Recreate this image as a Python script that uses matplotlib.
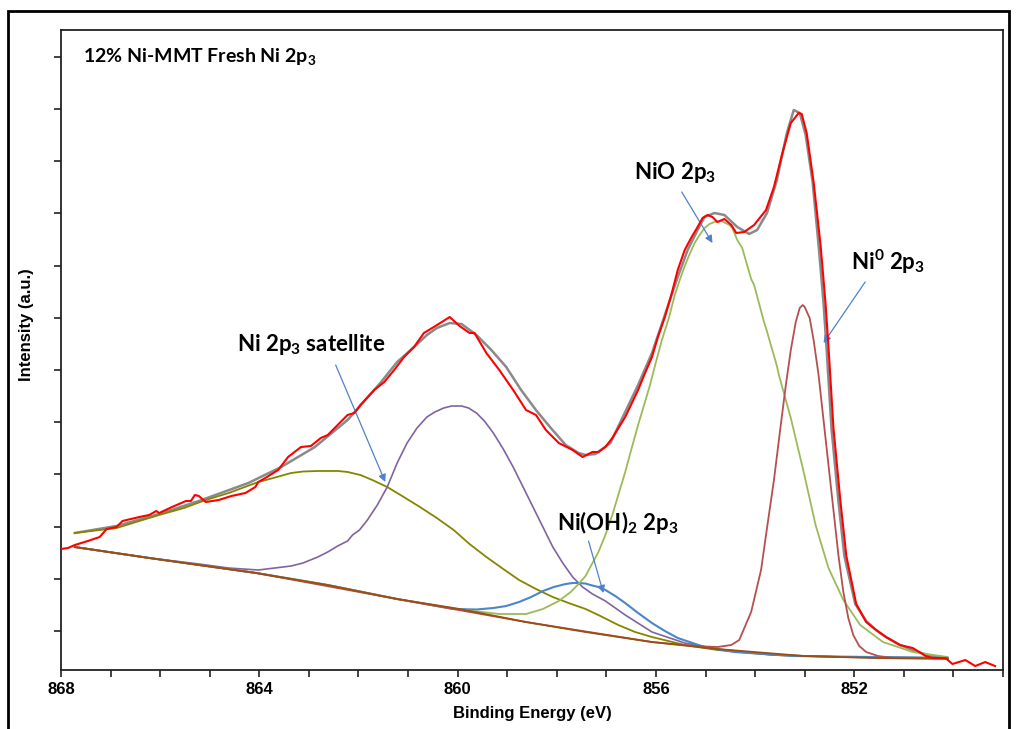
import matplotlib
matplotlib.use('Agg')
import matplotlib.pyplot as plt
from matplotlib.patches import Rectangle

# Ni 2p3 XPS spectrum, 12% Ni-MMT fresh
be_raw = [868.00, 867.86, 867.72, 867.46, 867.22, 867.08, 866.88, 866.76, 866.42, 866.22,
          866.08, 866.02, 865.76, 865.48, 865.38, 865.30, 865.22, 865.08, 864.82, 864.56,
          864.28, 864.08, 864.02, 863.88, 863.62, 863.42, 863.16, 862.96, 862.76, 862.62,
          862.42, 862.22, 862.08, 861.96, 861.68, 861.48, 861.28, 861.08, 860.88, 860.68,
          860.48, 860.32, 860.16, 859.96, 859.76, 859.66, 859.42, 859.16, 858.88, 858.62,
          858.42, 858.22, 857.96, 857.68, 857.48, 857.28, 857.16, 857.02, 856.88, 856.62,
          856.36, 856.22, 856.08, 855.96, 855.82, 855.68, 855.56, 855.42, 855.28, 855.16,
          855.06, 854.96, 854.86, 854.76, 854.62, 854.48, 854.38, 854.22, 854.02, 853.78,
          853.62, 853.46, 853.28, 853.12, 853.06, 852.96, 852.82, 852.68, 852.58, 852.52,
          852.42, 852.28, 852.16, 851.96, 851.76, 851.56, 851.36, 851.08, 850.82, 850.56,
          850.42, 850.16, 850.02, 849.76, 849.56, 849.36, 849.16]
cps_raw = [2571, 2590, 2648, 2724, 2801, 2954, 2993, 3108, 3184, 3223,
           3299, 3261, 3376, 3491, 3491, 3606, 3587, 3472, 3510, 3587,
           3644, 3759, 3855, 3931, 4085, 4334, 4525, 4545, 4698, 4755,
           4947, 5139, 5177, 5330, 5618, 5771, 6001, 6250, 6441, 6710,
           6825, 6920, 7016, 6844, 6710, 6710, 6326, 6001, 5618, 5234,
           5139, 4851, 4602, 4468, 4334, 4430, 4430, 4525, 4698, 5100,
           5618, 5943, 6250, 6633, 7016, 7476, 7917, 8300, 8549, 8741,
           8913, 8971, 8932, 8836, 8894, 8779, 8626, 8645, 8779, 9066,
           9507, 10120, 10733, 10925, 10906, 10542, 9603, 8396, 7284, 6441,
           4889, 3491, 2437, 1517, 1172, 1019, 885, 732, 674, 521,
           483, 483, 368, 444, 329, 406, 329]

be_env = [867.72, 866.88, 866.02, 865.22, 864.22, 863.56, 862.88, 862.22, 861.56, 861.22,
          860.88, 860.62, 860.42, 860.16, 859.92, 859.62, 859.32, 859.02, 858.72, 858.42,
          858.12, 857.82, 857.56, 857.42, 857.22, 856.92, 856.62, 856.36, 856.08, 855.82,
          855.56, 855.36, 855.16, 855.02, 854.82, 854.62, 854.36, 854.12, 853.96, 853.76,
          853.56, 853.36, 853.22, 853.10, 852.98, 852.84, 852.72, 852.62, 852.56, 852.46,
          852.32, 852.20, 851.98, 851.76, 851.56, 851.36, 851.08, 850.82, 850.52, 850.12]
cps_env = [2878, 3012, 3242, 3491, 3836, 4142, 4525, 5043, 5752, 6154,
           6441, 6671, 6805, 6901, 6882, 6671, 6384, 6058, 5618, 5234,
           4889, 4564, 4410, 4372, 4391, 4602, 5196, 5713, 6326, 7055,
           7783, 8300, 8683, 8932, 9009, 8971, 8741, 8607, 8683, 9009,
           9641, 10542, 10982, 10925, 10503, 9603, 8396, 7284, 6441, 4889,
           3491, 2437, 1517, 1192, 1019, 885, 732, 636, 540, 483]

# Ni 2p3 satellite, broad part
be_sat = [867.72, 867.22, 866.88, 866.42, 866.02, 865.52, 865.08, 864.62, 864.02, 863.72,
          863.36, 863.12, 862.82, 862.42, 862.22, 861.96, 861.72, 861.42, 861.12, 860.76,
          860.42, 860.08, 859.76, 859.42, 859.08, 858.76, 858.42, 858.08, 857.76, 857.42,
          857.12, 856.76, 856.42, 856.08, 855.42, 854.76, 853.62, 852.22, 850.12]
cps_sat = [2878, 2935, 2973, 3108, 3223, 3357, 3510, 3644, 3855, 3931,
           4027, 4056, 4066, 4066, 4047, 3989, 3893, 3759, 3587, 3376,
           3165, 2935, 2667, 2418, 2188, 1977, 1805, 1651, 1536, 1422,
           1287, 1115, 981, 885, 732, 636, 540, 502, 483]

# Ni 2p3 satellite, narrow part
be_sat2 = [867.72, 866.22, 865.22, 864.62, 864.02, 863.36, 863.12, 862.82, 862.62, 862.42,
           862.22, 862.12, 861.98, 861.82, 861.62, 861.42, 861.22, 861.02, 860.82, 860.62,
           860.46, 860.28, 860.12, 859.92, 859.78, 859.62, 859.46, 859.28, 859.08, 858.88,
           858.68, 858.48, 858.28, 858.08, 857.88, 857.68, 857.48, 857.28, 857.02, 856.62,
           856.08, 855.42, 854.76, 853.62, 852.22, 850.12]
cps_sat2 = [2609, 2399, 2284, 2207, 2169, 2245, 2303, 2418, 2514, 2629,
            2724, 2839, 2935, 3127, 3414, 3759, 4219, 4602, 4889, 5100,
            5196, 5273, 5311, 5311, 5273, 5177, 5024, 4794, 4487, 4142,
            3759, 3376, 2993, 2609, 2303, 2035, 1843, 1709, 1575, 1307,
            981, 770, 655, 540, 502, 483]

# Ni(OH)2 2p3
be_oh = [867.72, 866.22, 864.06, 862.62, 861.22, 860.08, 859.62, 859.28, 859.02, 858.76,
         858.52, 858.28, 858.06, 857.82, 857.68, 857.56, 857.42, 857.32, 857.16, 857.02,
         856.82, 856.62, 856.36, 856.08, 855.82, 855.56, 855.32, 855.02, 854.42, 853.22,
         850.12]
cps_oh = [2609, 2399, 2111, 1881, 1613, 1422, 1412, 1441, 1479, 1556,
          1651, 1766, 1843, 1901, 1920, 1920, 1910, 1881, 1843, 1786,
          1671, 1536, 1345, 1153, 1000, 866, 789, 693, 598, 521,
          483]

# NiO 2p3
be_nio = [867.72, 866.22, 864.06, 862.62, 861.22, 860.02, 859.16, 858.62, 858.28, 857.96,
          857.72, 857.56, 857.42, 857.28, 857.16, 857.02, 856.88, 856.76, 856.62, 856.50,
          856.36, 856.24, 856.12, 856.00, 855.88, 855.74, 855.62, 855.52, 855.42, 855.32,
          855.22, 855.12, 855.02, 854.92, 854.82, 854.68, 854.52, 854.46, 854.36, 854.26,
          854.08, 854.02, 853.82, 853.78, 853.56, 853.52, 853.28, 853.02, 852.78, 852.52,
          852.22, 851.88, 851.42, 850.82, 850.12]
cps_nio = [2609, 2399, 2111, 1881, 1613, 1422, 1326, 1326, 1422, 1575,
           1747, 1901, 2054, 2303, 2514, 2839, 3223, 3606, 4046, 4468,
           4947, 5330, 5713, 6154, 6576, 6997, 7438, 7725, 7993, 8223,
           8434, 8587, 8721, 8798, 8836, 8856, 8779, 8721, 8492, 8338,
           7744, 7629, 6920, 6805, 6077, 5905, 5081, 4046, 3031, 2207,
           1594, 1115, 789, 598, 502]

# Ni0 2p3
be_ni0 = [867.72, 866.22, 864.06, 861.22, 858.62, 856.08, 855.22, 854.76, 854.48, 854.32,
          854.08, 853.88, 853.76, 853.62, 853.50, 853.38, 853.28, 853.18, 853.10, 853.04,
          853.00, 852.90, 852.82, 852.72, 852.62, 852.52, 852.42, 852.32, 852.22, 852.12,
          852.02, 851.90, 851.76, 851.52, 851.22, 850.12]
cps_ni0 = [2609, 2399, 2111, 1613, 1172, 789, 713, 693, 732, 828,
           1364, 2169, 2973, 3893, 4813, 5713, 6384, 6920, 7189, 7246,
           7208, 6997, 6576, 5905, 5043, 4181, 3318, 2456, 1747, 1249,
           923, 713, 598, 521, 483, 483]

# Shirley background
be_bg = [867.72, 866.22, 864.06, 862.62, 861.22, 859.96, 858.62, 857.42, 856.08, 854.76,
         853.02, 851.62, 850.12]
cps_bg = [2609, 2399, 2111, 1881, 1613, 1422, 1172, 981, 789, 655,
          521, 483, 464]

xticks_major = [868, 864, 860, 856, 852]

# mathtext for the sub/superscripts in the labels
plt.rcParams['mathtext.fontset'] = 'custom'
plt.rcParams['mathtext.rm'] = 'Lato:bold'
plt.rcParams['mathtext.it'] = 'Lato:bold'
plt.rcParams['mathtext.bf'] = 'Lato:bold'

fig = plt.figure(figsize=(10.17, 7.29), dpi=100)
ax = fig.add_axes([61 / 1017, 59 / 729, 942 / 1017, 640 / 729])

# outer frame round the whole picture
fig.add_artist(Rectangle((8 / 1017, -0.05), 1001 / 1017, 1.035, transform=fig.transFigure,
                         fill=False, edgecolor='black', linewidth=2))

# curves
ax.plot(be_env, cps_env, color='#8a8a8a', lw=1.8, zorder=2)
ax.plot(be_sat, cps_sat, color='#858500', lw=1.3, zorder=3)
ax.plot(be_sat2, cps_sat2, color='#8064A2', lw=1.2, zorder=3)
ax.plot(be_oh, cps_oh, color='#4A86C8', lw=1.5, zorder=3)
ax.plot(be_nio, cps_nio, color='#9BBB59', lw=1.3, zorder=3)
ax.plot(be_ni0, cps_ni0, color='#B4504D', lw=1.3, zorder=3)
ax.plot(be_bg, cps_bg, color='#9A4F12', lw=1.3, zorder=4)
ax.plot(be_raw, cps_raw, color='#FF0000', lw=1.5, zorder=5)

ax.set_xlim(868, 849.16)
ax.set_ylim(253, 12515)
ax.set_xticks(xticks_major)
ax.set_xticks(range(849, 869), minor=True)
ax.set_yticks(range(1000, 12001, 1000))
ax.set_yticklabels([])
ax.tick_params(axis='both', which='both', direction='out', length=5, width=1.2, color='#222222')
ax.tick_params(axis='x', pad=4)
for lab in ax.get_xticklabels():
    lab.set_fontfamily('Liberation Sans')
    lab.set_fontweight('bold')
    lab.set_fontsize(12)
for sp in ax.spines.values():
    sp.set_linewidth(1.3)
    sp.set_color('#222222')

ax.set_xlabel('Binding Energy (eV)', fontfamily='Liberation Sans', fontweight='bold',
              fontsize=12, labelpad=6)
fig.text(27 / 1017, 1 - 325 / 729, 'Intensity (a.u.)', rotation=90, ha='center', va='center',
         fontfamily='Liberation Sans', fontweight='bold', fontsize=12)

ax.text(0.0234, 0.958, r'12% Ni-MMT Fresh Ni 2p$_3$', transform=ax.transAxes,
        ha='left', va='center', fontfamily='Lato', fontweight='bold', fontsize=14)

# peak labels with arrows
arrow_kw = dict(arrowstyle='-|>', color='#4F81D0', lw=0.9, mutation_scale=11,
                shrinkA=0, shrinkB=0)
label_kw = dict(ha='center', va='center', fontfamily='Lato', fontweight='bold', fontsize=16)

ax.text(862.96, 6480, r'Ni 2p$_3$ satellite', **label_kw)
ax.annotate('', xy=(861.46, 3855), xytext=(862.46, 6097), arrowprops=arrow_kw)

ax.text(855.62, 9794, r'NiO 2p$_3$', **label_kw)
ax.annotate('', xy=(854.86, 8434), xytext=(855.48, 9411), arrowprops=arrow_kw)

ax.text(851.32, 8070, r'Ni$^0$ 2p$_3$', **label_kw)
ax.annotate('', xy=(852.62, 6518), xytext=(851.78, 7687), arrowprops=arrow_kw)

ax.text(856.78, 3088, r'Ni(OH)$_2$ 2p$_3$', **label_kw)
ax.annotate('', xy=(857.06, 1728), xytext=(857.36, 2724), arrowprops=arrow_kw)

fig.savefig('out.png', dpi=100, facecolor='white')
